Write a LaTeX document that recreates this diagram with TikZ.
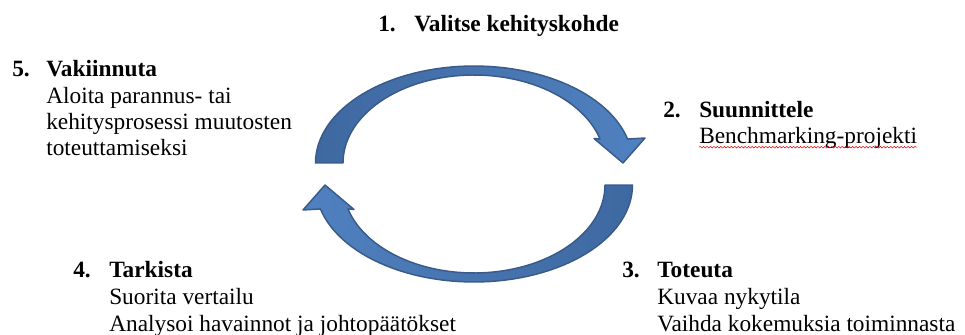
\documentclass[tikz,border=0pt]{standalone}
\usepackage{fontspec}
\setmainfont{Liberation Serif}
\usetikzlibrary{decorations.pathmorphing}
\definecolor{arrdark}{RGB}{62,104,160}
\definecolor{arrlight}{RGB}{80,129,192}
\definecolor{arrline}{RGB}{56,91,137}
\newcommand\ArcArrowPath{plot[domain=180:14.3,samples=60] ({474+158.5*cos(\x)},{163-97*sin(\x)}) -- (645,138) -- (623,163) -- (594,138.5) -- plot[domain=15.8:180,samples=60] ({474+131*cos(\x)},{163-88*sin(\x)}) -- cycle}
\begin{document}
\begin{tikzpicture}[x=0.75pt,y=-0.75pt,
  txt/.style={anchor=base west,inner sep=0pt,font=\fontsize{17.5}{19.5}\selectfont},
  hd/.style={anchor=base west,inner sep=0pt,font=\fontsize{17.5}{19.5}\selectfont\bfseries},
  arrowshape/.style={draw=arrline,line width=1.1pt,line join=round},
  spell/.style={draw=red,line width=0.4pt,decorate,decoration={snake,amplitude=0.6pt,segment length=2.6pt}}]
\useasboundingbox (0,0) rectangle (965,335);
\path[arrowshape,left color=arrdark,right color=arrlight] \ArcArrowPath;
\begin{scope}[rotate around={180:(474,174)}]
\path[arrowshape,left color=arrlight,right color=arrdark] \ArcArrowPath;
\end{scope}
\node[hd] (n1) at (378,32) {1.};
\node[hd] (t1) at (414,32) {Valitse kehityskohde};
\node[hd] (n5) at (12,77) {5.};
\node[hd] (t5) at (46,77) {Vakiinnuta};
\node[txt] (t5a) at (46,103.5) {Aloita parannus- tai};
\node[txt] (t5b) at (46,130) {kehitysprosessi muutosten};
\node[txt] (t5c) at (46,156) {toteuttamiseksi};
\node[hd] (n2) at (663,117.5) {2.};
\node[hd] (t2) at (699,117.5) {Suunnittele};
\node[txt] (t2a) at (699,144) {Benchmarking-projekti};
\draw[spell] ([yshift=-2.4pt]t2a.base west) -- ([yshift=-2.4pt]t2a.base east);
\node[hd] (n4) at (73,277.5) {4.};
\node[hd] (t4) at (109,277.5) {Tarkista};
\node[txt] (t4a) at (109,304.5) {Suorita vertailu};
\node[txt] (t4b) at (109,331.5) {Analysoi havainnot ja johtopäätökset};
\node[hd] (n3) at (622,277.5) {3.};
\node[hd] (t3) at (657,277.5) {Toteuta};
\node[txt] (t3a) at (657,304.5) {Kuvaa nykytila};
\node[txt] (t3b) at (657,331.5) {Vaihda kokemuksia toiminnasta};
\end{tikzpicture}
\end{document}
